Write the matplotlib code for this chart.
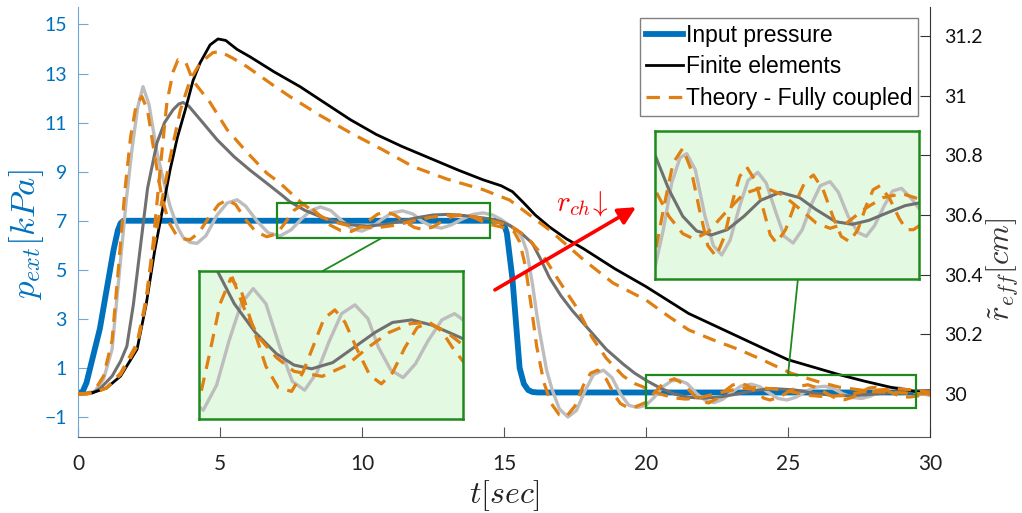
import matplotlib
matplotlib.use("Agg")
import matplotlib.pyplot as plt
from matplotlib.patches import Rectangle

plt.rcParams['mathtext.fontset'] = 'cm'

# ---------------- data ----------------
# input pressure [kPa]
t_in = [0, 0.15, 0.3, 0.77, 1.25, 1.4, 1.5, 1.6, 14.85, 15.0, 15.1, 15.3, 15.55, 15.7, 15.85, 16.0, 16.2, 30]
p_in = [0, 0, 0.4, 2.6, 5.8, 6.6, 6.9, 7.0, 7.0, 6.85, 6.5, 4.6, 1.0, 0.35, 0.1, 0.02, 0, 0]

# finite elements, large r_ch (black) [cm]
t_fe = [0, 0.53, 1.0, 1.5, 2.08, 2.4, 2.7, 3.0, 3.24, 3.5, 3.8, 4.05, 4.3, 4.65, 4.93, 5.2, 5.6, 6.06,
        6.9, 7.82, 8.7, 9.58, 10.5, 11.4, 12.4, 13.4, 14.26, 14.9, 15.3, 15.7, 16.1, 16.6, 17.2, 17.8,
        18.9, 20.0, 21.5, 22.4, 23.3, 24.2, 25.0, 25.9, 26.8, 27.7, 28.6, 29.5, 30.0]
r_fe = [30.0, 30.005, 30.02, 30.06, 30.15, 30.3, 30.48, 30.63, 30.75, 30.86, 30.96, 31.05, 31.11, 31.17,
        31.19, 31.185, 31.155, 31.13, 31.08, 31.03, 30.975, 30.92, 30.87, 30.83, 30.79, 30.75, 30.718,
        30.698, 30.678, 30.64, 30.6, 30.56, 30.52, 30.487, 30.42, 30.36, 30.27, 30.23, 30.19, 30.15,
        30.115, 30.09, 30.065, 30.043, 30.023, 30.008, 30.004]

# theory, large r_ch (orange dashed)
t_o1 = [0, 0.5, 1.0, 1.5, 2.08, 2.4, 2.64, 2.9, 3.24, 3.6, 3.94, 4.3, 4.75, 5.0, 5.46, 5.95, 6.87, 7.46,
        8.5, 9.58, 10.7, 11.8, 13.0, 14.26, 15.2, 15.9, 16.6, 17.2, 17.8, 18.84, 20.0, 20.8, 21.5, 22.4,
        23.3, 24.2, 25.1, 26.0, 26.8, 28.0, 29.2, 30.0]
r_o1 = [30.0, 30.004, 30.02, 30.065, 30.16, 30.31, 30.48, 30.62, 30.79, 30.95, 31.05, 31.11, 31.144,
        31.148, 31.125, 31.097, 31.035, 30.997, 30.935, 30.876, 30.82, 30.762, 30.72, 30.685, 30.65,
        30.6, 30.55, 30.5, 30.45, 30.372, 30.315, 30.26, 30.215, 30.18, 30.148, 30.11, 30.07, 30.043,
        30.023, 30.008, 30.003, 30.0]

# finite elements, medium r_ch (dark grey)
t_dg = [0, 0.5, 0.8, 1.2, 1.5, 1.72, 1.95, 2.18, 2.45, 2.78, 3.05, 3.35, 3.55, 3.7, 3.9, 4.3, 4.9, 5.5,
        6.06, 6.6, 7.2, 7.45, 8.0, 8.6, 9.2, 9.7, 10.2, 10.8, 11.4, 12.0, 12.5, 13.04, 13.6, 14.1, 14.5,
        14.9, 15.2, 15.6, 16.0, 16.3, 16.6, 17.0, 17.4, 18.0, 18.6, 19.2, 19.6, 20.0, 20.5, 21.0, 21.5,
        22.03, 22.6, 23.2, 23.8, 24.5, 25.2, 25.8, 26.5, 27.1, 27.7, 28.4, 29.0, 29.5, 30.0]
r_dg = [30.0, 30.003, 30.02, 30.06, 30.11, 30.16, 30.3, 30.48, 30.69, 30.842, 30.91, 30.953, 30.972,
        30.977, 30.965, 30.92, 30.852, 30.795, 30.75, 30.71, 30.665, 30.645, 30.615, 30.592, 30.575,
        30.566, 30.563, 30.568, 30.58, 30.592, 30.6, 30.602, 30.598, 30.592, 30.587, 30.578, 30.565,
        30.54, 30.505, 30.45, 30.39, 30.33, 30.28, 30.215, 30.15, 30.1, 30.07, 30.046, 30.02, 30.0,
        29.989, 29.986, 29.99, 30.0, 30.012, 30.018, 30.014, 30.005, 29.996, 29.994, 29.997, 30.003,
        30.008, 30.01, 30.012]

# theory, medium r_ch (orange dashed)
t_o2 = [0, 0.5, 1.0, 1.5, 2.08, 2.4, 2.64, 2.89, 3.13, 3.35, 3.52, 3.8, 4.05, 4.65, 5.25, 5.95, 6.65,
        7.1, 7.82, 8.3, 8.7, 9.2, 9.7, 10.5, 11.2, 11.8, 12.4, 13.0, 13.5, 14.0, 14.5, 15.2, 15.8, 16.4,
        17.0, 17.56, 18.1, 18.6, 19.2, 19.6, 20.0, 20.5, 21.0, 21.4, 21.9, 22.5, 23.2, 23.9, 24.6, 25.3,
        25.8, 26.3, 26.9, 27.5, 28.2, 28.9, 29.5, 30.0]
r_o2 = [30.0, 30.002, 30.02, 30.07, 30.17, 30.32, 30.5, 30.75, 30.977, 31.08, 31.12, 31.11, 31.05,
        30.977, 30.886, 30.81, 30.74, 30.708, 30.645, 30.61, 30.588, 30.572, 30.561, 30.557, 30.566,
        30.58, 30.592, 30.599, 30.6, 30.593, 30.582, 30.565, 30.527, 30.46, 30.37, 30.29, 30.19, 30.12,
        30.06, 30.035, 30.02, 30.0, 29.987, 29.983, 29.988, 30.002, 30.017, 30.022, 30.016, 30.004,
        29.995, 29.991, 29.995, 30.005, 30.014, 30.017, 30.013, 30.006]

# finite elements, small r_ch (light grey)
t_lg = [0, 0.3, 0.6, 0.9, 1.2, 1.5, 1.7, 1.9, 2.1, 2.29, 2.5, 2.78, 3.0, 3.24, 3.5, 3.7, 3.95, 4.19,
        4.5, 4.9, 5.25, 5.6, 5.9, 6.3, 6.7, 7.12, 7.5, 7.85, 8.2, 8.54, 8.9, 9.3, 9.65, 10.0, 10.35, 10.7,
        11.05, 11.43, 11.8, 12.1, 12.45, 12.8, 13.15, 13.5, 13.9, 14.26, 14.6, 14.9, 15.2, 15.45, 15.65,
        15.8, 16.0, 16.15, 16.27, 16.5, 16.7, 16.95, 17.25, 17.55, 17.85, 18.15, 18.5, 18.8, 19.1, 19.4,
        19.7, 20.0, 20.3, 20.6, 20.9, 21.14, 21.45, 21.8, 22.1, 22.4, 22.7, 23.05, 23.35, 23.7, 24.0,
        24.35, 24.65, 24.97, 25.3, 25.65, 25.95, 26.3, 26.6, 26.95, 27.3, 27.6, 27.9, 28.25, 28.55,
        28.87, 29.2, 29.5, 30.0]
r_lg = [30.0, 30.0, 30.01, 30.05, 30.15, 30.45, 30.65, 30.82, 30.96, 31.03, 30.97, 30.81, 30.72, 30.63,
        30.56, 30.525, 30.508, 30.505, 30.53, 30.6, 30.64, 30.651, 30.63, 30.58, 30.54, 30.53, 30.55,
        30.585, 30.615, 30.627, 30.615, 30.58, 30.553, 30.546, 30.56, 30.585, 30.607, 30.614, 30.603,
        30.58, 30.562, 30.556, 30.567, 30.585, 30.602, 30.607, 30.6, 30.585, 30.565, 30.55, 30.52,
        30.48, 30.37, 30.27, 30.2, 30.08, 30.013, 29.95, 29.923, 29.945, 30.01, 30.065, 30.08, 30.055,
        30.0, 29.962, 29.955, 29.962, 29.99, 30.025, 30.044, 30.047, 30.035, 30.0, 29.978, 29.971,
        29.982, 30.008, 30.027, 30.033, 30.025, 30.003, 29.985, 29.98, 29.99, 30.01, 30.023, 30.026,
        30.018, 30.0, 29.988, 29.985, 29.993, 30.008, 30.019, 30.021, 30.014, 30.006, 29.995]

# theory, small r_ch (orange dashed)
t_o3 = [0, 0.3, 0.6, 0.9, 1.2, 1.45, 1.65, 1.85, 2.05, 2.25, 2.45, 2.7, 2.95, 3.2, 3.45, 3.7, 3.94,
        4.25, 4.6, 4.95, 5.25, 5.55, 5.9, 6.25, 6.65, 7.0, 7.3, 7.6, 7.9, 8.2, 8.55, 8.9, 9.25, 9.63,
        9.95, 10.3, 10.55, 10.86, 11.15, 11.5, 11.85, 12.18, 12.5, 12.85, 13.2, 13.55, 13.9, 14.2, 14.5,
        14.8, 15.1, 15.35, 15.55, 15.75, 15.95, 16.15, 16.4, 16.65, 16.95, 17.2, 17.5, 17.8, 18.05,
        18.3, 18.6, 18.9, 19.1, 19.35, 19.65, 20.0, 20.3, 20.65, 21.0, 21.3, 21.6, 21.9, 22.2, 22.5,
        22.8, 23.05, 23.3, 23.6, 23.9, 24.15, 24.37, 24.7, 25.05, 25.4, 25.7, 26.05, 26.4, 26.7, 27.0,
        27.3, 27.6, 27.85, 28.1, 28.45, 28.8, 29.05, 29.3, 29.65, 30.0]
r_o3 = [30.0, 30.0, 30.015, 30.06, 30.18, 30.45, 30.68, 30.86, 30.97, 30.997, 30.95, 30.8, 30.66,
        30.575, 30.535, 30.52, 30.517, 30.54, 30.59, 30.635, 30.651, 30.635, 30.585, 30.545, 30.527,
        30.537, 30.575, 30.615, 30.635, 30.625, 30.595, 30.565, 30.548, 30.545, 30.56, 30.585, 30.603,
        30.61, 30.6, 30.578, 30.558, 30.551, 30.56, 30.58, 30.596, 30.6, 30.593, 30.58, 30.569, 30.562,
        30.555, 30.545, 30.51, 30.43, 30.3, 30.16, 30.04, 29.97, 29.93, 29.925, 29.96, 30.03, 30.07,
        30.08, 30.05, 29.995, 29.968, 29.955, 29.958, 29.972, 30.005, 30.04, 30.051, 30.035, 30.005,
        29.978, 29.97, 29.985, 30.012, 30.03, 30.037, 30.027, 30.005, 29.986, 29.98, 29.99, 30.01,
        30.026, 30.031, 30.02, 30.0, 29.985, 29.981, 29.99, 30.008, 30.02, 30.023, 30.013, 29.998,
        29.99, 29.99, 29.995, 30.0]

x_ticks = [0, 5, 10, 15, 20, 25, 30]
p_ticks = [-1, 1, 3, 5, 7, 9, 11, 13, 15]
r_ticks = [30, 30.2, 30.4, 30.6, 30.8, 31, 31.2]
r_tick_labels = ['30', '30.2', '30.4', '30.6', '30.8', '31', '31.2']
legend_labels = ['Input pressure', 'Finite elements', 'Theory - Fully coupled']

# ---------------- styling ----------------
BLUE = '#0072BD'
BLUE_AX = '#6FA8D8'
ORANGE = '#E07F12'
LGRAY = '#BDBDBD'
DGRAY = '#707070'
GREEN = '#1E8A1E'
INSET_BG = '#E4F9E1'
TICKFONT = 'Lato'

fig = plt.figure(figsize=(10.22, 5.13), dpi=100)
ax = fig.add_axes([78/1022, 1-437/513, 852/1022, 430/513])
ax2 = ax.twinx()

lw_o = 2.3
dash = (4.2, 2.8)

def draw_r(a, with_slow=True):
    a.plot(t_lg, r_lg, color=LGRAY, lw=2.4, solid_joinstyle='round')
    a.plot(t_dg, r_dg, color=DGRAY, lw=2.2, solid_joinstyle='round')
    l_fe = None
    if with_slow:
        l_fe, = a.plot(t_fe, r_fe, color='black', lw=2.0, solid_joinstyle='round')
    l_th, = a.plot(t_o3, r_o3, color=ORANGE, lw=lw_o, dashes=dash)
    a.plot(t_o2, r_o2, color=ORANGE, lw=lw_o, dashes=dash)
    if with_slow:
        a.plot(t_o1, r_o1, color=ORANGE, lw=lw_o, dashes=dash)
    return l_fe, l_th

l_in, = ax.plot(t_in, p_in, color=BLUE, lw=4.2, solid_joinstyle='round')
l_fe, l_th = draw_r(ax2)

ax.set_xlim(0, 30)
ax.set_ylim(-1.815, 15.713)
ax2.set_ylim(29.856, 31.297)

ax.set_xticks(x_ticks)
ax.set_yticks(p_ticks)
ax2.set_yticks(r_ticks)
ax2.set_yticklabels(r_tick_labels)

for a in (ax, ax2):
    a.spines['top'].set_visible(False)
ax.spines['left'].set_color(BLUE_AX)
ax.spines['bottom'].set_color('#555555')
ax2.spines['right'].set_color('#333333')
ax2.spines['left'].set_visible(False)
ax2.spines['bottom'].set_visible(False)
ax.spines['right'].set_visible(False)

ax.tick_params(axis='y', direction='in', length=7, color=BLUE_AX, labelcolor=BLUE,
               labelsize=14, pad=8)
ax.tick_params(axis='x', direction='in', length=7, color='#555555', labelcolor='#222222',
               labelsize=15, pad=12)
ax2.tick_params(axis='y', direction='in', length=7, color='#333333', labelcolor='#111111',
                labelsize=14, pad=10)
for lab in ax.get_xticklabels() + ax.get_yticklabels() + ax2.get_yticklabels():
    lab.set_fontfamily(TICKFONT)

ax.set_xlabel(r'$t[sec]$', fontsize=23, color='#222222')
ax.xaxis.set_label_coords(0.501, -0.095)
ax.set_ylabel(r'$p_{ext}[kPa]$', fontsize=25, color=BLUE)
ax.yaxis.set_label_coords(-0.038, 0.47)
ax2.set_ylabel(r'$\tilde{r}_{eff}[cm]$', fontsize=22, color='#333333', rotation=90)
ax2.yaxis.set_label_coords(1.063, 0.39)

# zoom rectangles on the main axes
rect1 = (7.0, 30.523, 7.5, 0.118)
rect2 = (20.0, 29.953, 9.5, 0.111)
for (x0, y0, w, h) in (rect1, rect2):
    ax2.add_patch(Rectangle((x0, y0), w, h, fill=False, edgecolor=GREEN, lw=1.6, zorder=5))

# connector lines
ax2.plot([8.63, 10.7], [30.413, 30.523], color=GREEN, lw=1.3, zorder=5)
ax2.plot([25.35, 25.0], [30.386, 30.064], color=GREEN, lw=1.3, zorder=5)

# red arrow and annotation
ax2.annotate('', xy=(19.65, 30.626), xytext=(14.68, 30.349),
             arrowprops=dict(arrowstyle='-|>', color='red', lw=2.6, mutation_scale=26,
                             shrinkA=0, shrinkB=0))
ax2.text(17.75, 30.64, r'$r_{ch}\!\downarrow$', color='red', fontsize=21,
         ha='center', va='center')

# legend
leg = ax2.legend([l_in, l_fe, l_th], legend_labels, loc='upper right',
                 bbox_to_anchor=(0.986, 0.974), borderaxespad=0, fancybox=False,
                 edgecolor='#808080', framealpha=1, handlelength=1.6, handletextpad=0.12,
                 labelspacing=0.36, borderpad=0.26,
                 prop={'family': 'Liberation Sans', 'size': 16.5})
leg.get_frame().set_linewidth(1.0)

# inset axes
def make_inset(bounds, rect):
    ia = fig.add_axes(bounds)
    ia.set_facecolor(INSET_BG)
    draw_r(ia, with_slow=False)
    x0, y0, w, h = rect
    ia.set_xlim(x0, x0 + w)
    ia.set_ylim(y0, y0 + h)
    ia.set_xticks([])
    ia.set_yticks([])
    for s in ia.spines.values():
        s.set_color(GREEN)
        s.set_linewidth(1.8)
    return ia

make_inset([199/1022, 1-419/513, 264/1022, 148/513], rect1)
make_inset([655/1022, 1-279/513, 264/1022, 148/513], rect2)

fig.savefig('out.png', dpi=100)
